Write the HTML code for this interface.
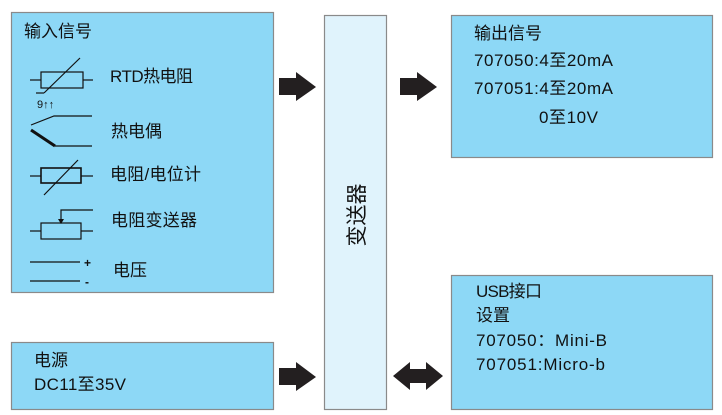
<!DOCTYPE html>
<html><head><meta charset="utf-8"><style>
html,body{margin:0;padding:0;background:#fff;}
svg{display:block;}
text{font-family:"Liberation Sans","Noto Sans CJK SC",sans-serif;fill:#111;}
</style></head><body>
<svg width="722" height="415" viewBox="0 0 722 415" xmlns="http://www.w3.org/2000/svg">
<g stroke="#8a8a8a" stroke-width="1.2">
<rect x="11.5" y="12.5" width="262" height="280" fill="#8dd8f6"/>
<rect x="11.5" y="342.5" width="262" height="67" fill="#8dd8f6"/>
<rect x="324.5" y="15.5" width="62" height="394" fill="#e0f3fc"/>
<rect x="451.5" y="15.5" width="261" height="142" fill="#8dd8f6"/>
<rect x="451.5" y="275.5" width="261" height="134" fill="#8dd8f6"/>
</g>
<g fill="#231f20">
<polygon points="279,78 296,78 296,72 316,87 296,101 296,95 279,95"/>
<polygon points="400,78 417,78 417,72 437,87 417,101 417,95 400,95"/>
<polygon points="279,368 296,368 296,362 316,377 296,391 296,385 279,385"/>
<polygon points="393,376 410,362 410,369 426,369 426,362 443,376 426,390 426,383 410,383 410,390"/>
</g>
<g stroke="#111" stroke-width="1.2" fill="none">
<line x1="30" y1="80" x2="41" y2="80"/><rect x="41" y="72" width="42" height="16"/><line x1="83" y1="80" x2="93" y2="80"/>
<line x1="44" y1="93" x2="80" y2="58"/><line x1="36" y1="93" x2="44" y2="93"/>
<polyline points="92,116 54,116 31,125"/>
<line x1="55" y1="146" x2="92" y2="146"/>
<line x1="31" y1="130" x2="55" y2="146" stroke-width="3"/>
<line x1="30" y1="176" x2="41" y2="176"/><rect x="41" y="168" width="40" height="15" stroke-width="1.6"/><line x1="81" y1="176" x2="93" y2="176"/>
<line x1="44" y1="195" x2="78" y2="160"/>
<polyline points="93,210 61,210 61,220"/>
<line x1="30" y1="231" x2="41" y2="231"/><rect x="41" y="223" width="40" height="16"/><line x1="81" y1="231" x2="93" y2="231"/>
<line x1="30" y1="262" x2="80" y2="262"/><line x1="30" y1="281" x2="80" y2="281"/>
</g>
<polygon points="58,219 64,219 61,224" fill="#111"/>
<text x="37" y="108" font-size="11">9↑↑</text>
<text x="84" y="267" font-size="12" font-weight="bold">+</text>
<text x="85" y="286" font-size="12" font-weight="bold">-</text>
<g font-size="17" lengthAdjust="spacingAndGlyphs">
<text x="24" y="37" textLength="68">输入信号</text>
<text x="110" y="82" textLength="83">RTD热电阻</text>
<text x="111" y="137" textLength="51">热电偶</text>
<text x="110" y="180" textLength="91">电阻/电位计</text>
<text x="111" y="226" textLength="86">电阻变送器</text>
<text x="113" y="276" textLength="34">电压</text>
<text x="34" y="366" textLength="34">电源</text>
<text x="34" y="390" textLength="92">DC11至35V</text>
<text x="474" y="39" textLength="68">输出信号</text>
<text x="474" y="66" textLength="139">707050:4至20mA</text>
<text x="474" y="94" textLength="139">707051:4至20mA</text>
<text x="539" y="123" textLength="59">0至10V</text>
<text x="476" y="297" textLength="66">USB接口</text>
<text x="476" y="321" textLength="34">设置</text>
<text x="476" y="346" textLength="131">707050：Mini-B</text>
<text x="476" y="370" textLength="129">707051:Micro-b</text>
</g>
<text x="0" y="0" font-size="21" transform="translate(364,215) rotate(-90)" text-anchor="middle">变送器</text>
</svg>
</body></html>
